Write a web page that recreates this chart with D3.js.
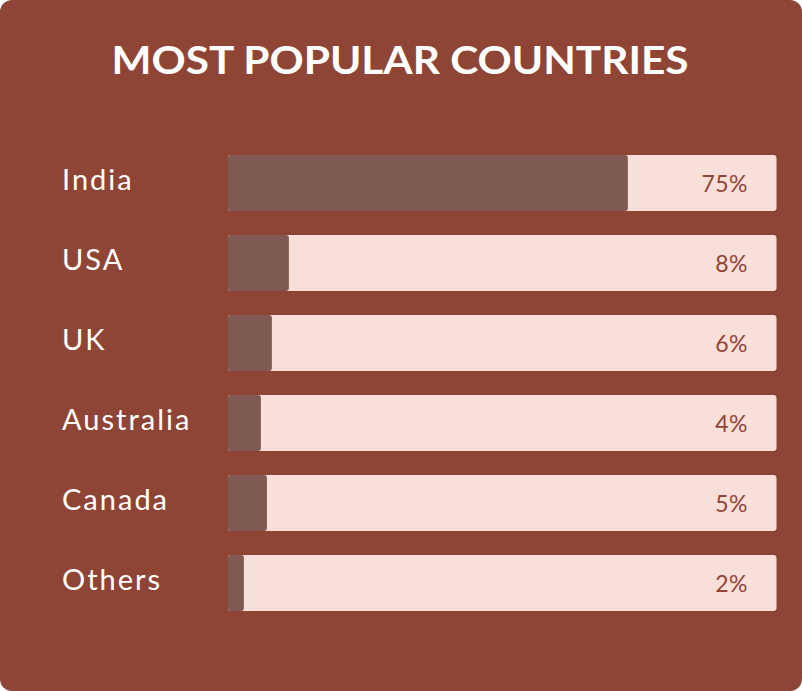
<!DOCTYPE html>
<html>
<head>
<meta charset="utf-8">
<script src="https://cdn.jsdelivr.net/npm/d3@7"></script>
<style>
  html, body { margin: 0; padding: 0; background: #ffffff; }
  svg { display: block; }
</style>
</head>
<body>
<svg id="chart" width="802" height="691"></svg>
<script>
const title = "MOST POPULAR COUNTRIES";
const countries = ["India", "USA", "UK", "Australia", "Canada", "Others"];
const shareLabels = [75, 8, 6, 4, 5, 2];
// bar fill lengths (percent of the track)
const fillValues = [72.9, 11.1, 8.0, 6.0, 7.1, 2.9];

const W = 802, H = 691;
const svg = d3.select("#chart");

svg.append("rect")
  .attr("x", 0).attr("y", 0).attr("width", W).attr("height", H)
  .attr("rx", 12).attr("ry", 12)
  .attr("fill", "#8f4535");

svg.append("text")
  .attr("x", 400).attr("y", 73.5)
  .attr("text-anchor", "middle")
  .attr("font-family", "Lato, 'Open Sans', sans-serif")
  .attr("font-weight", 700)
  .attr("font-size", 38)
  .attr("fill", "#ffffff")
  .attr("textLength", 577)
  .attr("lengthAdjust", "spacingAndGlyphs")
  .text(title);

const y = d3.scaleBand().domain(countries).range([155, 611]).paddingInner(0.3).paddingOuter(0);
const x = d3.scaleLinear().domain([0, 100]).range([228, 776.5]);

const rows = svg.append("g").selectAll("g")
  .data(countries.map((c, i) => ({ c, label: shareLabels[i], fill: fillValues[i] })))
  .join("g");

rows.append("rect")
  .attr("x", x(0)).attr("y", d => y(d.c))
  .attr("width", x(100) - x(0)).attr("height", y.bandwidth())
  .attr("rx", 3).attr("ry", 3)
  .attr("fill", "#f9dfda");

rows.append("rect")
  .attr("x", x(0)).attr("y", d => y(d.c))
  .attr("width", d => x(d.fill) - x(0)).attr("height", y.bandwidth())
  .attr("rx", 3).attr("ry", 3)
  .attr("fill", "#7f5a51");

rows.append("text")
  .attr("x", 62).attr("y", d => y(d.c) + y.bandwidth() / 2 + 6.5)
  .attr("font-family", "Lato, 'Open Sans', sans-serif")
  .attr("font-size", 29)
  .attr("letter-spacing", 2)
  .attr("fill", "#ffffff")
  .text(d => d.c);

rows.append("text")
  .attr("x", 748).attr("y", d => y(d.c) + y.bandwidth() / 2 + 8.5)
  .attr("text-anchor", "end")
  .attr("font-family", "Lato, 'Open Sans', sans-serif")
  .attr("font-size", 23)
  .attr("letter-spacing", 0.5)
  .attr("fill", "#8f4535")
  .text(d => d.label + "%");
</script>
</body>
</html>
